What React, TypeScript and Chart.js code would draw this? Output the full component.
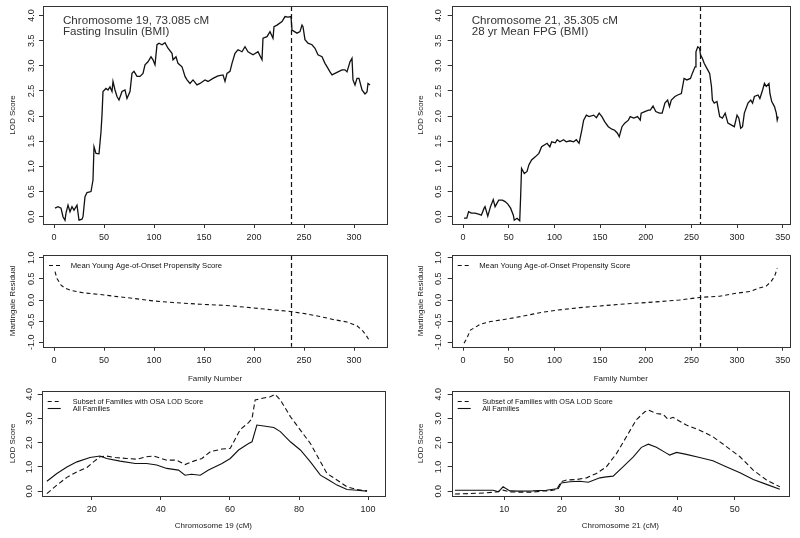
import React, { useEffect, useRef } from "react";
import { Chart, registerables } from "chart.js";
Chart.register(...registerables);

const FONT = "'Liberation Sans', Arial, sans-serif";

// ---------- Data ----------
const chr19Family = [1,4,7,9,11,12,14,16,18,20,23,25,28,29,31,33,37,39,40,42,45,47,48,49,52,54,56,58,59,61,63,65,68,71,73,76,78,80,83,86,89,91,94,97,99,101,103,105,108,111,114,118,119,122,124,128,129,131,133,136,139,143,146,151,154,159,164,169,171,173,176,178,181,184,188,191,194,199,204,208,209,213,216,219,220,223,228,231,234,237,238,243,246,248,249,251,254,258,261,264,268,271,274,276,278,281,284,288,291,293,296,298,299,301,303,305,308,311,313,314,316];
const chr19FamilyLod = [0.17,0.2,0.17,0,-0.07,0.07,0.23,0.1,0.2,0.13,0.23,-0.07,-0.05,0,0.4,0.48,0.5,0.73,1.39,1.26,1.25,1.69,2.02,2.49,2.55,2.52,2.58,2.49,2.69,2.52,2.39,2.32,2.49,2.52,2.35,2.49,2.85,2.89,2.79,2.79,2.85,3.02,3.08,3.18,3.12,3.02,3.42,3.45,3.42,3.46,3.35,3.25,3.12,3.18,3.05,2.98,2.92,2.79,2.72,2.65,2.72,2.62,2.65,2.72,2.69,2.75,2.8,2.82,2.69,2.85,2.89,3.05,3.25,3.32,3.28,3.38,3.28,3.22,3.28,3.12,3.55,3.58,3.68,3.55,3.78,3.81,3.88,3.98,3.97,3.98,3.71,3.65,3.68,3.81,3.78,3.52,3.45,3.42,3.35,3.22,3.18,3.05,2.95,2.88,2.82,2.85,2.88,2.92,2.92,2.88,3.08,3.15,2.72,2.62,2.75,2.75,2.52,2.44,2.48,2.65,2.62];

const chr21Family = [1,4,6,9,13,17,20,23,24,27,30,33,35,39,43,46,49,52,55,56,59,62,63,64,67,70,72,75,79,83,86,92,95,97,101,103,106,110,113,117,121,124,127,130,132,135,138,143,146,149,152,155,159,163,166,169,171,174,177,181,183,187,191,194,195,199,203,205,208,211,215,218,221,224,226,228,232,235,239,242,245,249,251,254,255,257,259,260,262,264,267,270,272,273,275,278,281,284,287,290,294,297,300,302,304,306,308,312,315,317,319,323,325,328,330,332,335,336,338,341,343,344,345];
const chr21FamilyLod = [-0.03,-0.03,0.1,0.07,0.07,0.05,0.03,0.17,0.2,0.01,0.2,0.34,0.2,0.33,0.33,0.3,0.25,0.17,0.03,-0.07,-0.03,-0.08,0.4,0.96,0.86,0.9,1.03,1.13,1.19,1.26,1.39,1.46,1.39,1.49,1.47,1.53,1.49,1.53,1.49,1.51,1.49,1.53,1.46,1.72,1.92,2.02,1.99,2.02,1.97,2.06,1.99,1.89,1.79,1.74,1.72,1.66,1.59,1.79,1.86,1.92,1.99,1.96,1.99,1.92,2.06,2.09,2.12,2.12,2.2,2.09,2.06,2.06,2.26,2.32,2.19,2.32,2.39,2.42,2.45,2.75,2.72,2.75,2.85,2.98,3.28,3.38,3.35,3.22,3.15,3.05,2.95,2.85,2.59,2.32,2.26,2.29,1.99,1.96,2.06,1.86,1.82,1.79,2.02,1.96,1.76,1.79,2.06,2.26,2.32,2.26,2.39,2.42,2.35,2.52,2.65,2.59,2.65,2.45,2.29,2.19,2.06,1.92,1.99];

const residFamilyLeft = [1,3,7,11,18,29,46,63,79,99,119,146,173,196,213,236,253,266,279,293,303,308,312,316];
const residLeft = [0.67,0.51,0.35,0.28,0.22,0.17,0.13,0.08,0.04,-0.02,-0.06,-0.1,-0.13,-0.18,-0.22,-0.27,-0.33,-0.39,-0.46,-0.52,-0.61,-0.71,-0.83,-0.98];
const residFamilyRight = [1,4,8,13,19,30,48,66,84,103,128,150,179,208,237,259,281,299,314,324,332,337,341,344];
const residRight = [-1.02,-0.91,-0.71,-0.65,-0.57,-0.51,-0.45,-0.38,-0.3,-0.24,-0.18,-0.14,-0.09,-0.05,0,0.06,0.09,0.16,0.2,0.28,0.33,0.43,0.55,0.75];

const chr19SubsetCM = [7,9.9,12.8,15.7,18.6,20.5,22.4,24.3,26.8,30.1,33,35.9,37.9,41.7,44.6,47,49.5,51.9,54.3,57.7,60.1,63,65.4,66.4,67.3,69.8,71.7,73.1,74.6,77.5,80.4,83.3,85.7,88.1,91,93.9,96.8,99.7];
const chr19SubsetLod = [-0.1,0.25,0.57,0.8,0.98,1.21,1.42,1.45,1.39,1.35,1.32,1.42,1.45,1.28,1.28,1.1,1.24,1.35,1.63,1.74,1.77,2.55,2.83,3.0,3.77,3.85,3.9,4.0,3.77,3.08,2.52,1.97,1.35,0.73,0.46,0.18,0.07,0.01];
const chr19AllCM = [7,9.9,12.8,15.7,19.5,22.4,24.3,28.2,32.6,35.9,38.8,41.7,45.1,47,48.9,51.4,53.8,57.7,60.1,62.5,65.4,66.4,67.8,69.8,72.7,74.6,77.5,80.4,83.3,86.2,88.6,91,93.9,96.8,99.7];
const chr19AllLod = [0.41,0.73,1.0,1.21,1.39,1.45,1.35,1.24,1.14,1.14,1.08,0.94,0.87,0.66,0.7,0.66,0.87,1.14,1.35,1.7,1.97,2.04,2.73,2.69,2.63,2.46,2.04,1.7,1.21,0.66,0.46,0.25,0.07,0.04,0.0];

const chr21SubsetCM = [1.45,4,6.9,8.7,9.8,11,12.7,15,16.8,17.9,19.1,19.9,20.8,22.5,24.3,26,27.7,29.5,31.2,32.9,34.4,35,36.4,37.6,38.4,39.3,41.6,43.9,46.2,48.6,50.9,53.2,55.5,57.8];
const chr21SubsetLod = [-0.12,-0.1,-0.07,-0.03,0.04,-0.03,-0.04,-0.04,0.01,0.01,0.07,0.39,0.46,0.48,0.55,0.73,1.0,1.56,2.25,2.94,3.28,3.35,3.21,3.17,2.97,3.05,2.73,2.52,2.25,1.83,1.42,0.87,0.46,0.18];
const chr21AllCM = [1.45,8.1,9,9.8,11,12.7,15,17.3,18.5,19.4,19.9,21.4,23.1,24.6,26.6,27.7,28.9,30.6,32.4,33.8,35,36.4,38.2,38.7,39.9,41.6,43.9,46.2,48.6,50.9,53.2,55.5,57.8];
const chr21AllLod = [0.04,0.04,-0.03,0.18,0.01,0,0.01,0.04,0.08,0.11,0.34,0.39,0.41,0.37,0.55,0.59,0.62,1.0,1.42,1.81,1.94,1.81,1.56,1.49,1.6,1.52,1.39,1.26,1.0,0.76,0.48,0.28,0.08];

const familyTicksLeft = [0,50,100,150,200,250,300];
const familyTicksRight = [0,50,100,150,200,250,300,350];
const lodTicksTop = [0,0.5,1,1.5,2,2.5,3,3.5,4];
const residTicks = [-1,-0.5,0,0.5,1];
const lodTicksBottom = [0,1,2,3,4];
const cm19Ticks = [20,40,60,80,100];
const cm21Ticks = [10,20,30,40,50];

const peakFamilyLeft = 237;
const peakFamilyRight = 259;

const annLeft = ["Chromosome 19, 73.085 cM", "Fasting Insulin (BMI)"];
const annRight = ["Chromosome 21, 35.305 cM", "28 yr Mean FPG (BMI)"];
const residLegend = "Mean Young Age-of-Onset Propensity Score";
const subsetLegend = "Subset of Families with OSA LOD Score";
const allLegend = "All Families";

// ---------- Panel spec ----------
type Series = { xs: number[]; ys: number[]; dash?: number[]; width: number };
type Spec = {
  left: number; top: number; width: number; height: number;
  box: { l: number; t: number; r: number; b: number };
  xMin: number; xMax: number; yMin: number; yMax: number;
  xTicks: number[]; yTicks: number[];
  xTitle?: string; xTitleY?: number;
  yTitle: string; yTitleX: number; yLabelGap: number;
  series: Series[];
  vline?: number;
  annotation?: string[];
  legend?: { label: string; dash: number[] }[];
  legendTextDx?: number;
  legendDy?: number;
  legendFont?: number;
};

const INK = "#111";
const TXT = "#222";

function buildConfig(s: Spec): any {
  const padTop = s.box.t - s.top;
  const padRight = s.left + s.width - s.box.r;
  const yw = s.box.l - s.left;
  const xh = s.top + s.height - s.box.b;
  const titleSize = 8;
  const lh = titleSize * 1.2;

  const deco = {
    id: "deco",
    afterDatasetsDraw(chart: any) {
      const { ctx, chartArea: a, scales } = chart;
      const x = scales.x, y = scales.y;
      ctx.save();
      if (s.vline !== undefined) {
        const px = Math.round(x.getPixelForValue(s.vline)) + 0.5;
        ctx.strokeStyle = INK;
        ctx.lineWidth = 1.2;
        ctx.setLineDash([5, 3]);
        ctx.beginPath();
        ctx.moveTo(px, a.top);
        ctx.lineTo(px, a.bottom);
        ctx.stroke();
        ctx.setLineDash([]);
      }
      // box
      ctx.strokeStyle = "#333";
      ctx.lineWidth = 1;
      ctx.strokeRect(Math.round(a.left) + 0.5, Math.round(a.top) + 0.5, Math.round(a.right - a.left), Math.round(a.bottom - a.top));
      // y tick labels (rotated, like R)
      ctx.fillStyle = TXT;
      ctx.font = `9px ${FONT}`;
      for (const v of s.yTicks) {
        const py = y.getPixelForValue(v);
        ctx.save();
        ctx.translate(a.left - s.yLabelGap, py);
        ctx.rotate(-Math.PI / 2);
        ctx.textAlign = "center";
        ctx.textBaseline = "alphabetic";
        ctx.fillText(v.toFixed(1), 0, 0);
        ctx.restore();
      }
      // annotation
      if (s.annotation) {
        ctx.fillStyle = "#333";
        ctx.font = `11.6px ${FONT}`;
        ctx.textAlign = "left";
        ctx.textBaseline = "middle";
        s.annotation.forEach((t, i) => ctx.fillText(t, a.left + 20, a.top + 14.8 + i * 10.8));
      }
      // legend
      if (s.legend) {
        ctx.font = `${s.legendFont ?? 7.6}px ${FONT}`;
        ctx.fillStyle = "#111";
        ctx.textAlign = "left";
        ctx.textBaseline = "middle";
        s.legend.forEach((it, i) => {
          const yy = Math.round(a.top + (s.legendDy ?? 10) + i * 6.5) + 0.5;
          ctx.strokeStyle = INK;
          ctx.lineWidth = 1.1;
          ctx.setLineDash(it.dash);
          ctx.beginPath();
          ctx.moveTo(a.left + 6, yy);
          ctx.lineTo(a.left + 19, yy);
          ctx.stroke();
          ctx.setLineDash([]);
          ctx.fillText(it.label, a.left + (s.legendTextDx ?? 28), yy);
        });
      }
      ctx.restore();
    },
  };

  return {
    type: "line",
    data: {
      datasets: s.series.map((se) => ({
        data: se.xs.map((xv, i) => ({ x: xv, y: se.ys[i] })),
        borderColor: INK,
        borderWidth: se.width,
        borderDash: se.dash ?? [],
        pointRadius: 0,
        tension: 0,
        fill: false,
      })),
    },
    options: {
      animation: false,
      responsive: false,
      maintainAspectRatio: false,
      layout: { padding: { top: padTop, right: padRight, left: 0, bottom: 0 } },
      plugins: { legend: { display: false }, tooltip: { enabled: false }, title: { display: false } },
      scales: {
        x: {
          type: "linear",
          position: "bottom",
          min: s.xMin,
          max: s.xMax,
          afterBuildTicks: (sc: any) => { sc.ticks = s.xTicks.map((v) => ({ value: v })); },
          afterFit: (sc: any) => { sc.height = xh; },
          grid: { display: true, drawOnChartArea: false, drawTicks: true, tickLength: 4, color: "#333", tickColor: "#333", lineWidth: 1 },
          border: { display: false },
          ticks: { autoSkip: false, minRotation: 0, maxRotation: 0, padding: 4.5, color: TXT, font: { family: FONT, size: 9 }, callback: (v: any) => String(v) },
          title: s.xTitle
            ? { display: true, text: s.xTitle, color: TXT, font: { family: FONT, size: titleSize }, padding: { top: 0, bottom: (s.top + s.height) - (s.xTitleY as number) - lh / 2 } }
            : { display: false },
        },
        y: {
          type: "linear",
          position: "left",
          min: s.yMin,
          max: s.yMax,
          afterBuildTicks: (sc: any) => { sc.ticks = s.yTicks.map((v) => ({ value: v })); },
          afterFit: (sc: any) => { sc.width = yw; },
          grid: { display: true, drawOnChartArea: false, drawTicks: true, tickLength: 4, color: "#333", tickColor: "#333", lineWidth: 1 },
          border: { display: false },
          ticks: { display: false },
          title: { display: true, text: s.yTitle, color: TXT, font: { family: FONT, size: titleSize }, padding: { top: (s.yTitleX - s.left) - lh / 2, bottom: 0 } },
        },
      },
    },
    plugins: [deco],
  };
}

const specs: Spec[] = [
  {
    left: 0, top: 0, width: 400, height: 248,
    box: { l: 43, t: 6, r: 387, b: 224 },
    xMin: -11, xMax: 333, yMin: -0.145, yMax: 4.19,
    xTicks: familyTicksLeft, yTicks: lodTicksTop,
    yTitle: "LOD Score", yTitleX: 13, yLabelGap: 9.5,
    series: [{ xs: chr19Family, ys: chr19FamilyLod, width: 1.3 }],
    vline: peakFamilyLeft, annotation: annLeft,
  },
  {
    left: 400, top: 0, width: 400, height: 248,
    box: { l: 451.7, t: 6, r: 790, b: 224 },
    xMin: -12.5, xMax: 358, yMin: -0.145, yMax: 4.19,
    xTicks: familyTicksRight, yTicks: lodTicksTop,
    yTitle: "LOD Score", yTitleX: 421, yLabelGap: 11,
    series: [{ xs: chr21Family, ys: chr21FamilyLod, width: 1.3 }],
    vline: peakFamilyRight, annotation: annRight,
  },
  {
    left: 0, top: 248, width: 400, height: 137,
    box: { l: 43, t: 255, r: 387, b: 346.7 },
    xMin: -11, xMax: 333, yMin: -1.104, yMax: 1.064,
    xTicks: familyTicksLeft, yTicks: residTicks,
    xTitle: "Family Number", xTitleY: 379,
    yTitle: "Martingale Residual", yTitleX: 12.5, yLabelGap: 9.5,
    series: [{ xs: residFamilyLeft, ys: residLeft, dash: [4, 3], width: 1.1 }],
    vline: peakFamilyLeft,
    legend: [{ label: residLegend, dash: [4, 3] }], legendTextDx: 27.7, legendDy: 9.7, legendFont: 7.7,
  },
  {
    left: 400, top: 248, width: 400, height: 137,
    box: { l: 451.7, t: 255, r: 790, b: 346.7 },
    xMin: -12.5, xMax: 358, yMin: -1.104, yMax: 1.064,
    xTicks: familyTicksRight, yTicks: residTicks,
    xTitle: "Family Number", xTitleY: 379,
    yTitle: "Martingale Residual", yTitleX: 421, yLabelGap: 11,
    series: [{ xs: residFamilyRight, ys: residRight, dash: [4, 3], width: 1.1 }],
    vline: peakFamilyRight,
    legend: [{ label: residLegend, dash: [4, 3] }], legendTextDx: 27.5, legendDy: 9.7, legendFont: 7.7,
  },
  {
    left: 0, top: 385, width: 400, height: 153,
    box: { l: 41.7, t: 390.7, r: 385, b: 496 },
    xMin: 5.5, xMax: 104.9, yMin: -0.2, yMax: 4.15,
    xTicks: cm19Ticks, yTicks: lodTicksBottom,
    xTitle: "Chromosome 19 (cM)", xTitleY: 526,
    yTitle: "LOD Score", yTitleX: 12.5, yLabelGap: 9.5,
    series: [
      { xs: chr19SubsetCM, ys: chr19SubsetLod, dash: [5, 3], width: 1.1 },
      { xs: chr19AllCM, ys: chr19AllLod, width: 1.1 },
    ],
    legend: [{ label: subsetLegend, dash: [4, 3] }, { label: allLegend, dash: [] }], legendTextDx: 31, legendDy: 10.6, legendFont: 7.3,
  },
  {
    left: 400, top: 385, width: 400, height: 153,
    box: { l: 451.7, t: 390.7, r: 789, b: 496 },
    xMin: 0.9, xMax: 59.4, yMin: -0.2, yMax: 4.15,
    xTicks: cm21Ticks, yTicks: lodTicksBottom,
    xTitle: "Chromosome 21 (cM)", xTitleY: 526,
    yTitle: "LOD Score", yTitleX: 421, yLabelGap: 11,
    series: [
      { xs: chr21SubsetCM, ys: chr21SubsetLod, dash: [5, 3], width: 1.1 },
      { xs: chr21AllCM, ys: chr21AllLod, width: 1.1 },
    ],
    legend: [{ label: subsetLegend, dash: [4, 3] }, { label: allLegend, dash: [] }], legendTextDx: 30.5, legendDy: 10.6, legendFont: 7.3,
  },
];

function Panel({ spec }: { spec: Spec }) {
  const ref = useRef<HTMLCanvasElement>(null);
  useEffect(() => {
    const chart = new Chart(ref.current as HTMLCanvasElement, buildConfig(spec));
    return () => chart.destroy();
  }, [spec]);
  return (
    <canvas
      ref={ref}
      width={spec.width}
      height={spec.height}
      style={{ position: "absolute", left: spec.left, top: spec.top, width: spec.width, height: spec.height }}
    />
  );
}

export default function App() {
  return (
    <div style={{ position: "absolute", left: 0, top: 0, width: 800, height: 538, background: "#fff", overflow: "hidden" }}>
      {specs.map((s, i) => (
        <Panel key={i} spec={s} />
      ))}
    </div>
  );
}
